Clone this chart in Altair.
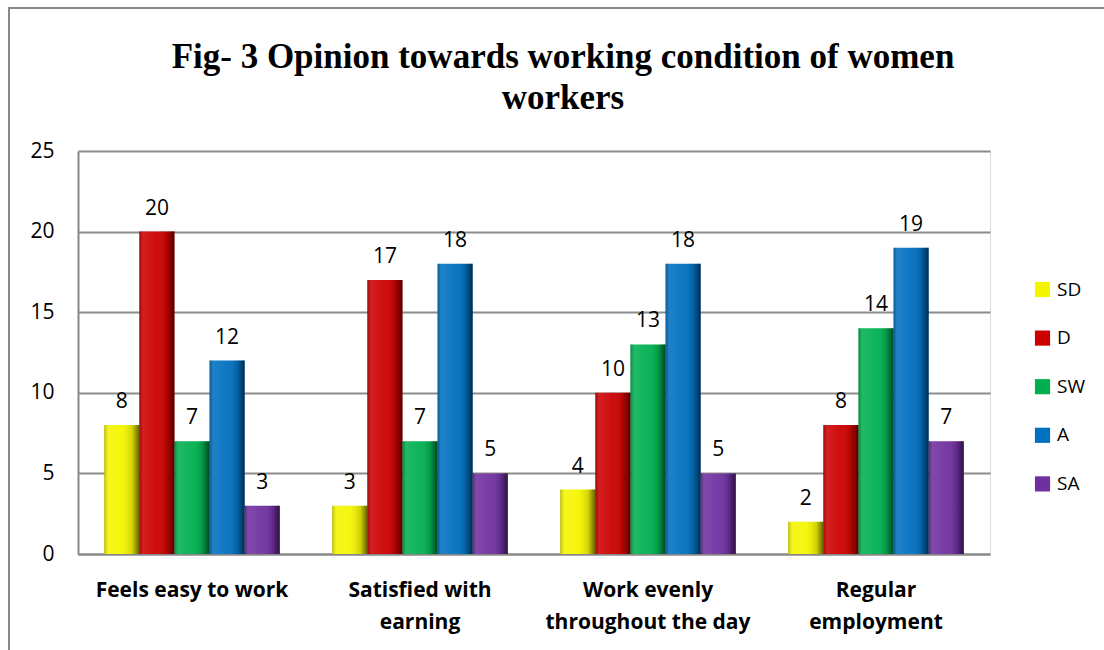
import altair as alt
import pandas as pd

categories = ["Feels easy to work", "Satisfied with earning",
              "Work evenly throughout the day", "Regular employment"]
category_lines = [["Feels easy to work"], ["Satisfied with", "earning"],
                  ["Work evenly", "throughout the day"], ["Regular", "employment"]]
series = ["SD", "D", "SW", "A", "SA"]
colors = ["#F5F500", "#CC0000", "#00B050", "#0070C0", "#7030A0"]
sd = [8, 3, 4, 2]
d = [20, 17, 10, 8]
sw = [7, 7, 13, 14]
a = [12, 18, 18, 19]
sa = [3, 5, 5, 7]
y_ticks = [0, 5, 10, 15, 20, 25]
title_lines = ["Fig- 3 Opinion towards working condition of women", "workers"]

series_values = {"SD": sd, "D": d, "SW": sw, "A": a, "SA": sa}
rows = []
for s in series:
    for c, v in zip(categories, series_values[s]):
        rows.append({"category": c, "series": s, "value": v})
df = pd.DataFrame(rows)

# label expression for wrapped x labels
expr = "datum.label"
for c, lines in reversed(list(zip(categories, category_lines))):
    arr = "[" + ",".join("'" + l + "'" for l in lines) + "]"
    expr = f"datum.label == '{c}' ? {arr} : ({expr})"

FONT = "Open Sans"

x_enc = alt.X("category:N", sort=categories,
              scale=alt.Scale(paddingInner=0.23, paddingOuter=0.115),
              axis=alt.Axis(title=None, labelExpr=expr, labelFont=FONT,
                            labelFontWeight="bold", labelFontSize=21,
                            labelColor="black", labelPadding=25,
                            labelLineHeight=32, labelAngle=0, labelLimit=400,
                            domainColor="#888888", domainWidth=2,
                            ticks=False, grid=False))
xo_enc = alt.XOffset("series:N", sort=series,
                     scale=alt.Scale(paddingInner=0, paddingOuter=0))
y_enc = alt.Y("value:Q", scale=alt.Scale(domain=[0, 25]),
              axis=alt.Axis(values=y_ticks, title=None, labelFont=FONT,
                            labelFontSize=21, labelColor="black",
                            labelPadding=24, ticks=False,
                            gridColor="#8c8c8c", gridWidth=2,
                            domainColor="#888888", domainWidth=2))

base = alt.Chart(df)

bars = base.mark_bar(opacity=1).encode(
    x=x_enc, xOffset=xo_enc, y=y_enc,
    color=alt.Color("series:N", sort=series,
                    scale=alt.Scale(domain=series, range=colors),
                    legend=alt.Legend(title=None, orient="none",
                                      legendX=955, legendY=129,
                                      symbolType="square", symbolSize=230,
                                      symbolStrokeWidth=0,
                                      labelFont=FONT, labelFontSize=19,
                                      labelColor="black", rowPadding=28.6,
                                      labelOffset=5)),
)

shade = base.mark_bar(
    fill=alt.LinearGradient(
        gradient="linear", x1=0, x2=1, y1=0, y2=0,
        stops=[alt.GradientStop(offset=0, color="rgba(0,0,0,0.25)"),
               alt.GradientStop(offset=0.12, color="rgba(255,255,255,0.12)"),
               alt.GradientStop(offset=0.5, color="rgba(255,255,255,0.05)"),
               alt.GradientStop(offset=0.8, color="rgba(0,0,0,0.15)"),
               alt.GradientStop(offset=1, color="rgba(0,0,0,0.6)")]),
).encode(x=x_enc, xOffset=xo_enc, y=y_enc)

labels = base.mark_text(font=FONT, fontSize=21, color="black",
                        baseline="alphabetic", dy=-17).encode(
    x=x_enc, xOffset=xo_enc, y=y_enc, text="value:Q")

one = alt.Chart(pd.DataFrame({"k": [0]}))
border_top = one.mark_rule(color="#888888", strokeWidth=2).encode(
    x=alt.value(-70), x2=alt.value(1040), y=alt.value(-143))
border_left = one.mark_rule(color="#888888", strokeWidth=2).encode(
    x=alt.value(-69), y=alt.value(-144), y2=alt.value(520))

title = one.mark_text(font="Liberation Serif", fontSize=35, fontWeight="bold",
                      color="black", lineHeight=41, baseline="middle",
                      align="center").encode(
    x=alt.value(485), y=alt.value(-94), text=alt.value(title_lines))

chart = alt.layer(bars, shade, labels, border_top, border_left, title).properties(
    width=912, height=403,
    padding={"left": 78, "top": 151, "right": 114, "bottom": 96},
    autosize="none",
).configure_view(stroke=None).configure(background="white")

chart.save("out.html", embed_options={"renderer": "svg", "actions": False})
